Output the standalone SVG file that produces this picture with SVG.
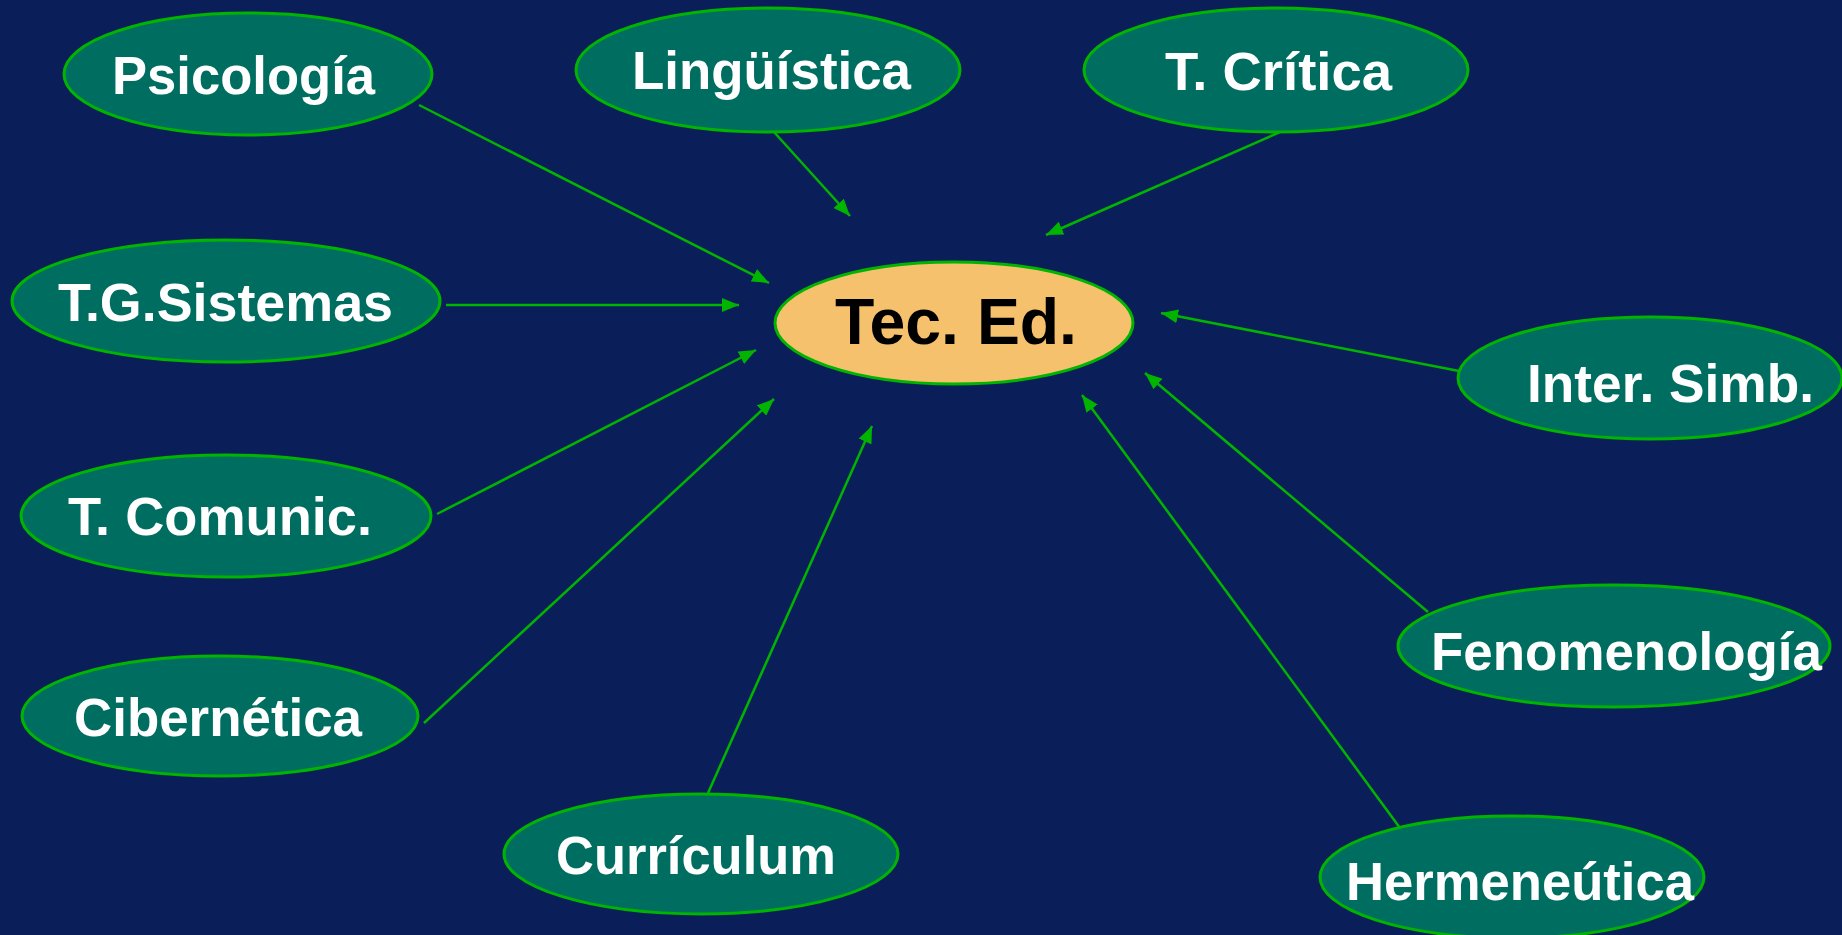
<svg xmlns="http://www.w3.org/2000/svg" width="1842" height="935" viewBox="0 0 1842 935">
<style>
.n ellipse{fill:#006D61;stroke:#00B400;stroke-width:3}
.n text{font-family:"Liberation Sans",Arial,sans-serif;font-weight:bold;font-size:53px;fill:#FFFFFF}
#tec ellipse{fill:#F5C16D}
#tec text{fill:#000000;font-size:65px}
.c line{stroke:#00B400;stroke-width:2.5;marker-end:url(#ah)}
</style>
<defs>
<marker id="ah" markerUnits="userSpaceOnUse" markerWidth="18" markerHeight="14" refX="17" refY="7" orient="auto">
<path d="M0,0 L17,7 L0,14 z" fill="#00B400"/>
</marker>
</defs>
<rect width="1842" height="935" fill="#0A1E5A"/>
<g id="connectors" class="c">
<line x1="419" y1="105" x2="769" y2="283"/>
<line x1="774" y1="132" x2="850" y2="216"/>
<line x1="1280" y1="132" x2="1046" y2="235"/>
<line x1="446" y1="305" x2="739" y2="305"/>
<line x1="1459" y1="371" x2="1161" y2="313"/>
<line x1="437" y1="514" x2="756" y2="350"/>
<line x1="424" y1="723" x2="774" y2="399"/>
<line x1="708" y1="793" x2="872" y2="426"/>
<line x1="1428" y1="612" x2="1145" y2="373"/>
<line x1="1400" y1="828" x2="1082" y2="395"/>
</g>
<g id="psicologia" class="n"><ellipse cx="248" cy="74" rx="184" ry="61"/><text x="112" y="94" textLength="263" lengthAdjust="spacingAndGlyphs">Psicología</text></g>
<g id="linguistica" class="n"><ellipse cx="768" cy="70" rx="192" ry="62"/><text x="632" y="89" textLength="279" lengthAdjust="spacingAndGlyphs">Lingüística</text></g>
<g id="tcritica" class="n"><ellipse cx="1276" cy="70" rx="192" ry="62"/><text x="1165" y="90" textLength="227" lengthAdjust="spacingAndGlyphs">T. Crítica</text></g>
<g id="tgsistemas" class="n"><ellipse cx="226" cy="301" rx="214" ry="61"/><text x="58" y="321" textLength="335" lengthAdjust="spacingAndGlyphs">T.G.Sistemas</text></g>
<g id="tec" class="n"><ellipse cx="954" cy="323" rx="179" ry="61"/><text x="835" y="344" textLength="242" lengthAdjust="spacingAndGlyphs">Tec. Ed.</text></g>
<g id="intersimb" class="n"><ellipse cx="1650" cy="378" rx="192" ry="61"/><text x="1527" y="402" textLength="287" lengthAdjust="spacingAndGlyphs">Inter. Simb.</text></g>
<g id="tcomunic" class="n"><ellipse cx="226" cy="516" rx="205" ry="61"/><text x="68" y="535" textLength="304" lengthAdjust="spacingAndGlyphs">T. Comunic.</text></g>
<g id="fenomenologia" class="n"><ellipse cx="1614" cy="646" rx="216" ry="61"/><text x="1431" y="670" textLength="391" lengthAdjust="spacingAndGlyphs">Fenomenología</text></g>
<g id="cibernetica" class="n"><ellipse cx="220" cy="716" rx="198" ry="60"/><text x="74" y="736" textLength="288" lengthAdjust="spacingAndGlyphs">Cibernética</text></g>
<g id="curriculum" class="n"><ellipse cx="701" cy="854" rx="197" ry="60"/><text x="556" y="874" textLength="280" lengthAdjust="spacingAndGlyphs">Currículum</text></g>
<g id="hermeneutica" class="n"><ellipse cx="1512" cy="877" rx="192" ry="61"/><text x="1346" y="900" textLength="348" lengthAdjust="spacingAndGlyphs">Hermeneútica</text></g>
</svg>
